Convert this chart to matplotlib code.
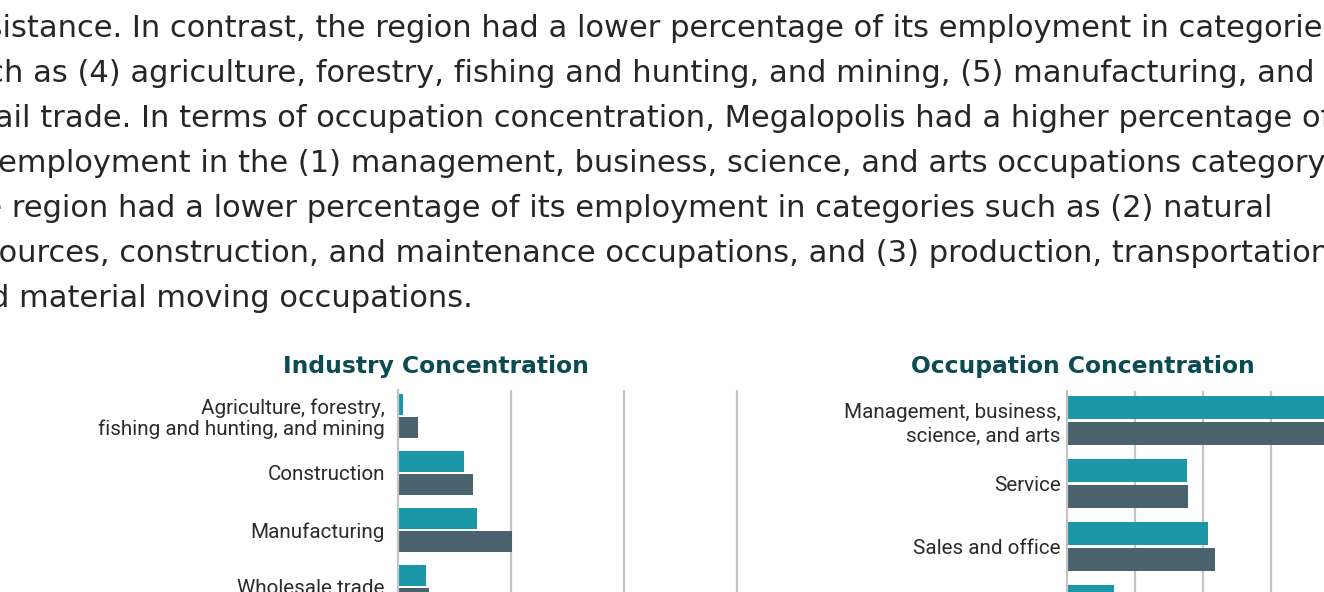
import matplotlib.pyplot as plt
import numpy as np

W, H, DPI = 1324, 592, 100

TEXT = "#262626"
LABEL = "#2b2b2b"
TITLE = "#0d4b53"
TEAL = "#1b97a8"
SLATE = "#4a626e"
GRID = "#c4c4c4"

# paragraph above the charts (page is cropped on both sides)
para_lines = [
    "assistance. In contrast, the region had a lower percentage of its employment in categories",
    "such as (4) agriculture, forestry, fishing and hunting, and mining, (5) manufacturing, and (6)",
    "retail trade. In terms of occupation concentration, Megalopolis had a higher percentage of",
    "its employment in the (1) management, business, science, and arts occupations category, while",
    "the region had a lower percentage of its employment in categories such as (2) natural",
    "resources, construction, and maintenance occupations, and (3) production, transportation,",
    "and material moving occupations.",
]

# industry shares, percent of employment
industry_labels = [
    "Agriculture, forestry,\nfishing and hunting, and mining",
    "Construction",
    "Manufacturing",
    "Wholesale trade",
]
industry_region = [0.4, 5.8, 7.0, 2.5]
industry_us = [1.8, 6.6, 10.1, 2.7]

# occupation shares, percent of employment
occupation_labels = [
    "Management, business,\nscience, and arts",
    "Service",
    "Sales and office",
    "Natural resources, construction,\nand maintenance",
]
occupation_region = [43.0, 17.6, 20.8, 6.9]
occupation_us = [38.0, 17.8, 21.7, 8.9]


def panel(fig, rect, labels, region, us, xlim, ylim, bar_h, off, pad, linespacing):
    ax = fig.add_axes(rect)
    y = np.arange(len(labels))
    ax.barh(y - off, region, height=bar_h, color=TEAL)
    ax.barh(y + off, us, height=bar_h, color=SLATE)
    ax.set_xticks([10, 20, 30, 40])
    ax.set_xticklabels([])
    ax.set_yticks(y, labels)
    ax.set_xlim(*xlim)
    ax.set_ylim(*ylim)
    ax.grid(axis="x", color=GRID, lw=1.6)
    ax.set_axisbelow(True)
    for s in ["top", "right", "bottom"]:
        ax.spines[s].set_visible(False)
    ax.spines["left"].set_color(GRID)
    ax.spines["left"].set_linewidth(1.6)
    ax.tick_params(length=0, pad=pad)
    for t in ax.get_yticklabels():
        t.set_fontfamily("Roboto")
        t.set_fontsize(14.9)
        t.set_color(LABEL)
        t.set_linespacing(linespacing)
    ax.patch.set_alpha(0)
    return ax


fig = plt.figure(figsize=(W / DPI, H / DPI), dpi=DPI)

for i, line in enumerate(para_lines):
    fig.text(-48 / W, 1 - (37 + 45 * i) / H, line, fontsize=22, color=TEXT,
             family="DejaVu Sans", ha="left", va="baseline")

fig.text(435.5 / W, 1 - 373.5 / H, "Industry Concentration", fontsize=16.8,
         weight="bold", color=TITLE, ha="center", va="baseline")
fig.text(1083 / W, 1 - 373.5 / H, "Occupation Concentration", fontsize=16.8,
         weight="bold", color=TITLE, ha="center", va="baseline")

# left panel: 11.3 px per percent, 57 px per category
panel(fig, [398 / W, 1 - 700 / H, 350.3 / W, 310 / H], industry_labels,
      industry_region, industry_us, (0, 31), (-0.456 + 310 / 57, -0.456),
      0.368, 0.2018, 9.4, 1.08)

# right panel: 6.8 px per percent, 63 px per category
panel(fig, [1067 / W, 1 - 701 / H, 340 / W, 310 / H], occupation_labels,
      occupation_region, occupation_us, (0, 50), (-0.468 + 310 / 63, -0.468),
      0.365, 0.206, 4.7, 1.3)

fig.savefig("out.png", dpi=DPI)
